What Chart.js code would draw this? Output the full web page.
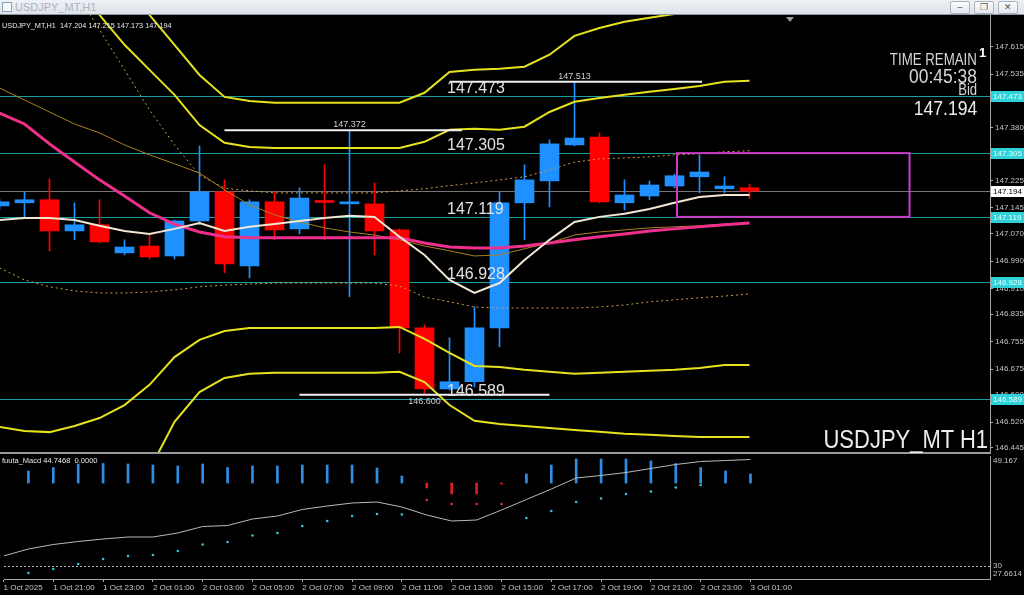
<!DOCTYPE html>
<html>
<head>
<meta charset="utf-8">
<title>USDJPY_MT,H1</title>
<script src="https://cdn.jsdelivr.net/npm/chart.js@4.4.1/dist/chart.umd.min.js"></script>
<style>
  html, body { margin: 0; padding: 0; background: #000; }
  body { width: 1024px; height: 595px; position: relative; overflow: hidden; font-family: "Liberation Sans", Arial, sans-serif; }
  #titleBar { position: absolute; left: 0; top: 0; width: 1024px; height: 14px; background: linear-gradient(#eef1f5, #dde3ea); border-bottom: 1px solid #8d96a0; }
  #titleBar .icon { position: absolute; left: 2px; top: 2px; width: 8px; height: 8px; border: 1px solid #8aa0b8; background: #f6f8fb; }
  #titleBar .name { position: absolute; left: 15px; top: 1px; font-size: 11px; line-height: 12px; color: #a9b3bd; }
  .btn { position: absolute; top: 1px; width: 18px; height: 11px; border: 1px solid #a9b2bc; border-radius: 2px; background: linear-gradient(#fbfcfd, #e3e8ee); font-size: 9px; line-height: 11px; text-align: center; color: #555; }
  canvas { position: absolute; left: 0; }
  #mainChart { top: 15px; }
  #oscChart { top: 452px; }
  #sep { position: absolute; left: 0; top: 452px; width: 991px; height: 2px; background: #9a9a9a; }
  #shift { position: absolute; left: 786px; top: 17px; width: 0; height: 0; border-left: 4px solid transparent; border-right: 4px solid transparent; border-top: 5px solid #9a9a9a; }
  .t { position: absolute; white-space: nowrap; line-height: 1; color: #d6d6d6; }
  .r { transform-origin: right center; text-align: right; }
</style>
</head>
<body>
<div id="titleBar"><div class="icon"></div><div class="name">USDJPY_MT,H1</div>
  <div class="btn" style="left:950px">&#8211;</div>
  <div class="btn" style="left:974px">&#10064;</div>
  <div class="btn" style="left:998px">&#10005;</div>
</div>
<canvas id="mainChart" width="1024" height="437"></canvas>
<canvas id="oscChart" width="1024" height="143"></canvas>
<div id="sep"></div>
<div id="shift"></div>

<div class="t" style="left:2px;top:21.5px;font-size:7.3px;color:#e6e6e6">USDJPY_MT,H1&nbsp; 147.204 147.215 147.173 147.194</div>
<div class="t r" style="right:47px;top:51.5px;font-size:16px;transform:scaleX(0.83)">TIME REMAIN</div>
<div class="t" style="left:979px;top:46px;font-size:13px;font-weight:bold;color:#fff">1</div>
<div class="t r" style="right:47px;top:66px;font-size:20px;transform:scaleX(0.87)">00:45:38</div>
<div class="t r" style="right:47px;top:82px;font-size:16px;transform:scaleX(0.82)">Bid</div>
<div class="t r" style="right:47px;top:98px;font-size:20px;color:#ececec;transform:scaleX(0.88)">147.194</div>
<div class="t r" style="right:36px;top:427px;font-size:25px;color:#ececec;transform:scaleX(0.88)">USDJPY_MT H1</div>
<div class="t" style="left:2px;top:457px;font-size:7.5px;color:#e6e6e6">fuuta_Macd 44.7468&nbsp; 0.0000</div>

<script>
// hourly bars, 1 Oct 19:00 .. 3 Oct 01:00
const opens  = [147.151, 147.160, 147.169, 147.078, 147.096, 147.014, 147.034, 147.005, 147.107, 147.192, 146.976,
                147.163, 147.084, 147.166, 147.157, 147.157, 147.081, 146.795, 146.617, 146.638, 146.795, 147.160,
                147.224, 147.329, 147.352, 147.160, 147.180, 147.209, 147.236, 147.201, 147.204];
const highs  = [147.171, 147.192, 147.230, 147.160, 147.169, 147.052, 147.064, 147.110, 147.326, 147.227, 147.169,
                147.192, 147.204, 147.271, 147.372, 147.218, 147.084, 146.804, 146.766, 146.856, 147.192, 147.271,
                147.344, 147.513, 147.364, 147.227, 147.224, 147.244, 147.300, 147.236, 147.215];
const lows   = [147.139, 147.116, 147.020, 147.052, 147.043, 147.008, 146.996, 146.996, 147.096, 146.956, 146.941,
                147.052, 147.069, 147.052, 146.886, 147.008, 146.722, 146.600, 146.614, 146.623, 146.740, 147.052,
                147.148, 147.326, 147.160, 147.139, 147.169, 147.204, 147.189, 147.189, 147.173];
const closes = [147.163, 147.169, 147.078, 147.096, 147.046, 147.031, 147.002, 147.107, 147.192, 146.982, 147.163,
                147.081, 147.174, 147.161, 147.163, 147.078, 146.795, 146.617, 146.638, 146.795, 147.160, 147.227,
                147.332, 147.349, 147.163, 147.183, 147.212, 147.239, 147.250, 147.209, 147.194];

// moving averages and bands
const maPink  = [147.422, 147.390, 147.332, 147.279, 147.227, 147.180, 147.131, 147.098, 147.075, 147.061, 147.058,
                 147.058, 147.058, 147.058, 147.058, 147.058, 147.058, 147.043, 147.031, 147.028, 147.028, 147.034,
                 147.043, 147.052, 147.061, 147.069, 147.078, 147.084, 147.090, 147.096, 147.101];
const maBrown = [147.495, 147.460, 147.425, 147.390, 147.364, 147.329, 147.300, 147.274, 147.247, 147.198, 147.154,
                 147.125, 147.104, 147.087, 147.075, 147.066, 147.052, 147.034, 147.020, 147.005, 147.008, 147.026,
                 147.043, 147.066, 147.075, 147.081, 147.087, 147.090, 147.093, 147.098, 147.101];
const maCream = [147.110, 147.116, 147.116, 147.110, 147.093, 147.078, 147.069, 147.084, 147.101, 147.078, 147.090,
                 147.098, 147.107, 147.116, 147.122, 147.119, 147.061, 147.008, 146.935, 146.897, 146.926, 146.993,
                 147.052, 147.104, 147.119, 147.128, 147.142, 147.160, 147.177, 147.183, 147.183];
const bandUp3 = [148.511, 148.365, 148.219, 148.073, 147.927, 147.810, 147.708, 147.621, 147.533, 147.469, 147.457,
                 147.452, 147.452, 147.452, 147.452, 147.452, 147.452, 147.481, 147.542, 147.548, 147.551, 147.557,
                 147.592, 147.647, 147.670, 147.688, 147.700, 147.711, 147.723, 147.729, 147.735];
const bandUp2 = [148.161, 148.044, 147.927, 147.810, 147.708, 147.621, 147.548, 147.475, 147.387, 147.335, 147.323,
                 147.320, 147.320, 147.320, 147.320, 147.320, 147.320, 147.338, 147.373, 147.376, 147.373, 147.382,
                 147.425, 147.455, 147.466, 147.475, 147.484, 147.492, 147.501, 147.513, 147.516];
const bandUp1 = [148.131, 148.015, 147.898, 147.781, 147.665, 147.548, 147.431, 147.329, 147.241, 147.203, 147.195,
                 147.189, 147.189, 147.189, 147.189, 147.189, 147.195, 147.201, 147.210, 147.218, 147.227, 147.236,
                 147.256, 147.279, 147.288, 147.291, 147.294, 147.300, 147.303, 147.309, 147.312];
const bandDn1 = [146.970, 146.935, 146.915, 146.903, 146.897, 146.897, 146.900, 146.906, 146.915, 146.920, 146.923,
                 146.926, 146.926, 146.926, 146.926, 146.926, 146.917, 146.885, 146.871, 146.856, 146.853, 146.853,
                 146.853, 146.853, 146.856, 146.862, 146.871, 146.877, 146.883, 146.888, 146.894];
const bandDn2 = [146.506, 146.494, 146.491, 146.509, 146.532, 146.570, 146.629, 146.710, 146.760, 146.786, 146.795,
                 146.795, 146.795, 146.795, 146.795, 146.795, 146.798, 146.763, 146.722, 146.684, 146.681, 146.673,
                 146.667, 146.661, 146.664, 146.667, 146.670, 146.673, 146.678, 146.687, 146.687];
const bandDn3 = [146.048, 146.077, 146.107, 146.159, 146.220, 146.300, 146.381, 146.521, 146.608, 146.649, 146.661,
                 146.664, 146.664, 146.664, 146.664, 146.664, 146.667, 146.637, 146.570, 146.524, 146.515, 146.509,
                 146.503, 146.497, 146.492, 146.486, 146.483, 146.480, 146.477, 146.477, 146.477];

// oscillator panel
const histTop = [null, 46.544, 47.156, 47.768, 47.856, 47.768, 47.593, 47.419, 47.768, 47.156, 47.419,
                 47.419, 47.593, 47.593, 47.593, 47.069, 45.670, 43.572, 42.523, 42.523, 44.271, 46.020,
                 47.593, 48.642, 48.642, 48.642, 48.293, 47.856, 47.156, 46.544, 46.020];
const histBase = 44.446;
const macdLine = [31.682, 32.906, 33.693, 34.217, 34.654, 35.004, 35.004, 35.704, 36.840, 37.015, 38.151,
                  38.676, 39.813, 40.424, 40.949, 41.124, 40.250, 38.851, 37.802, 37.977, 39.725, 41.561,
                  43.397, 45.320, 45.757, 46.282, 46.981, 47.681, 48.205, 48.380, 48.555];
const macdDots = [null, 28.710, 29.409, 30.283, 31.157, 31.682, 31.857, 32.556, 33.693, 34.130, 35.266,
                  35.704, 36.927, 37.802, 38.676, 39.026, 38.938, 41.474, 40.774, 40.774, 40.774, 38.326,
                  39.550, 41.124, 41.736, 42.523, 42.960, 43.659, 44.096, null, null];
const oscMax = 49.167, oscMin = 27.6614, oscLevel = 30;

// axes and horizontal objects
const priceTicks = [147.615, 147.535, 147.460, 147.380, 147.305, 147.225, 147.145, 147.070, 146.990,
                    146.910, 146.835, 146.755, 146.675, 146.600, 146.520, 146.445];
const xTickBars = [-1, 1, 3, 5, 7, 9, 11, 13, 15, 17, 19, 21, 23, 25, 27, 29];
const xTickLabels = ['1 Oct 2025', '1 Oct 21:00', '1 Oct 23:00', '2 Oct 01:00', '2 Oct 03:00', '2 Oct 05:00',
                     '2 Oct 07:00', '2 Oct 09:00', '2 Oct 11:00', '2 Oct 13:00', '2 Oct 15:00', '2 Oct 17:00',
                     '2 Oct 19:00', '2 Oct 21:00', '2 Oct 23:00', '3 Oct 01:00'];
const levels = [147.473, 147.305, 147.119, 146.928, 146.589];
const bidPrice = 147.194;
const markPrices = [147.513, 147.372, 146.600];
const markBars = [22, 13, 16];
const markFrom = [17, 8, 11];
const markTo = [27.1, 17.5, 21];

const barIdx = opens.map((_, k) => k - 1);
const xMin = -0.98, xMax = 38.62;
const priceMin = 146.433, priceMax = 147.708;
const levelTextBar = 16.9;
const boxBars = [26.1, 35.4];
const boxPrices = [147.305, 147.119];

const BLUE = '#1e90ff', RED = '#ff0000';
const FONT = '"Liberation Sans", Arial, sans-serif';

const pts = arr => barIdx.map((x, k) => ({ x, y: arr[k] }));
const candleColors = opens.map((o, k) => closes[k] >= o ? BLUE : RED);

function lineSet(arr, color, width, dash, order) {
  return { type: 'line', data: pts(arr), borderColor: color, borderWidth: width, borderDash: dash || [],
           pointRadius: 0, tension: 0, order };
}

function hline(ctx, x0, x1, py) {
  py = Math.round(py) + 0.5;
  ctx.beginPath(); ctx.moveTo(x0, py); ctx.lineTo(x1, py); ctx.stroke();
}

function tag(ctx, left, py, text, bg, fg) {
  ctx.fillStyle = bg;
  ctx.fillRect(left + 1, Math.round(py) - 5, 1024 - left, 11);
  ctx.fillStyle = fg;
  ctx.font = '8px ' + FONT;
  ctx.textAlign = 'left';
  ctx.textBaseline = 'middle';
  ctx.fillText(text, left + 3, Math.round(py) + 0.5);
}

const mainDecor = {
  id: 'mainDecor',
  beforeDatasetsDraw(chart) {
    const { ctx, chartArea: a, scales: { y } } = chart;
    ctx.save();
    ctx.lineWidth = 1;
    ctx.strokeStyle = '#767676';
    hline(ctx, a.left, a.right, y.getPixelForValue(bidPrice));
    ctx.strokeStyle = '#1c9ea2';
    levels.forEach(v => hline(ctx, a.left, a.right, y.getPixelForValue(v)));
    ctx.restore();
  },
  afterDatasetsDraw(chart) {
    const { ctx, scales: { x, y } } = chart;
    ctx.save();
    markPrices.forEach((v, k) => {
      const py = y.getPixelForValue(v);
      const below = v < closes[markBars[k] + 1];
      ctx.strokeStyle = '#f0f0f0';
      ctx.lineWidth = 2;
      ctx.beginPath();
      ctx.moveTo(x.getPixelForValue(markFrom[k]), py);
      ctx.lineTo(x.getPixelForValue(markTo[k]), py);
      ctx.stroke();
      ctx.fillStyle = '#cfcfcf';
      ctx.font = '9px ' + FONT;
      ctx.textAlign = 'center';
      ctx.textBaseline = below ? 'top' : 'bottom';
      ctx.fillText(v.toFixed(3), x.getPixelForValue(markBars[k]), below ? py + 2 : py - 1);
    });
    const bx0 = x.getPixelForValue(boxBars[0]), bx1 = x.getPixelForValue(boxBars[1]);
    const by0 = y.getPixelForValue(boxPrices[0]), by1 = y.getPixelForValue(boxPrices[1]);
    ctx.strokeStyle = '#c83cc8';
    ctx.lineWidth = 2;
    ctx.strokeRect(bx0, by0, bx1 - bx0, by1 - by0);
    ctx.fillStyle = '#e2e2e2';
    ctx.font = '16px ' + FONT;
    ctx.textAlign = 'left';
    ctx.textBaseline = 'alphabetic';
    levels.forEach(v => ctx.fillText(v.toFixed(3), x.getPixelForValue(levelTextBar), y.getPixelForValue(v) - 3));
    ctx.restore();
  },
  afterDraw(chart) {
    const { ctx, chartArea: a, scales: { y } } = chart;
    ctx.save();
    levels.forEach(v => tag(ctx, a.right, y.getPixelForValue(v), v.toFixed(3), '#2fd2d8', '#e6ffff'));
    tag(ctx, a.right, y.getPixelForValue(bidPrice), bidPrice.toFixed(3), '#ffffff', '#000000');
    ctx.restore();
  }
};

new Chart(document.getElementById('mainChart'), {
  type: 'bar',
  data: {
    datasets: [
      lineSet(maCream, '#f3e6d2', 2, null, 1),
      lineSet(maPink, '#ee2f8c', 3, null, 2),
      lineSet(maBrown, '#a8821e', 1, null, 3),
      lineSet(bandUp3, '#e6e21e', 2, null, 4),
      lineSet(bandUp2, '#e6e21e', 2, null, 4),
      lineSet(bandDn2, '#e6e21e', 2, null, 4),
      lineSet(bandDn3, '#e6e21e', 2, null, 4),
      lineSet(bandUp1, '#c9a040', 1, [2, 3], 5),
      lineSet(bandDn1, '#c9a040', 1, [2, 3], 5),
      { data: barIdx.map((x, k) => ({ x, y: [opens[k], closes[k]] })), backgroundColor: candleColors,
        borderWidth: 0, barThickness: 19, grouped: false, minBarLength: 2, order: 8 },
      { data: barIdx.map((x, k) => ({ x, y: [lows[k], highs[k]] })), backgroundColor: candleColors,
        borderWidth: 0, barThickness: 1, grouped: false, order: 9 }
    ]
  },
  options: {
    responsive: false, animation: false, events: [],
    layout: { padding: 0 },
    plugins: { legend: { display: false }, tooltip: { enabled: false } },
    scales: {
      x: { type: 'linear', min: xMin, max: xMax, offset: false, display: false },
      y: {
        position: 'right', min: priceMin, max: priceMax,
        afterBuildTicks: s => { s.ticks = priceTicks.map(v => ({ value: v })); },
        afterFit: s => { s.width = 34; s.paddingTop = 0; s.paddingBottom = 0; },
        ticks: { autoSkip: false, color: '#c4c4c4', padding: 2, font: { family: FONT, size: 8 },
                 callback: v => v.toFixed(3) },
        grid: { drawOnChartArea: false, color: '#a8a8a8', tickLength: 3 },
        border: { color: '#a8a8a8' }
      }
    }
  },
  plugins: [mainDecor]
});

const oscDecor = {
  id: 'oscDecor',
  afterDraw(chart) {
    const { ctx, chartArea: a, scales: { y } } = chart;
    ctx.save();
    ctx.strokeStyle = '#bdbdbd';
    ctx.lineWidth = 1;
    ctx.setLineDash([2, 2]);
    hline(ctx, a.left, a.right, y.getPixelForValue(oscLevel));
    ctx.setLineDash([]);
    ctx.fillStyle = '#c4c4c4';
    ctx.font = '8px ' + FONT;
    ctx.textAlign = 'left';
    ctx.textBaseline = 'top';
    ctx.fillText(String(oscMax), a.right + 3, a.top + 0.5);
    ctx.textBaseline = 'middle';
    ctx.fillText(String(oscLevel), a.right + 3, y.getPixelForValue(oscLevel));
    ctx.textBaseline = 'bottom';
    ctx.fillText(String(oscMin), a.right + 3, a.bottom - 1);
    ctx.restore();
  }
};

new Chart(document.getElementById('oscChart'), {
  type: 'bar',
  data: {
    datasets: [
      { type: 'line', data: pts(macdDots), showLine: false, pointRadius: 1.3, pointBorderWidth: 0,
        pointBackgroundColor: histTop.map(v => v !== null && v < histBase ? '#e03030' : '#36c6d6'), order: 0 },
      { type: 'line', data: pts(macdLine), borderColor: '#b8b8b8', borderWidth: 1, pointRadius: 0, tension: 0, order: 1 },
      { data: barIdx.map((x, k) => ({ x, y: histTop[k] === null ? null : [histBase, histTop[k]] })),
        backgroundColor: histTop.map(v => v !== null && v < histBase ? '#e01c1c' : '#2f8fe8'),
        borderWidth: 0, barThickness: 2, grouped: false, order: 2 }
    ]
  },
  options: {
    responsive: false, animation: false, events: [],
    layout: { padding: { top: 4 } },
    plugins: { legend: { display: false }, tooltip: { enabled: false } },
    scales: {
      x: {
        type: 'linear', min: xMin, max: xMax, position: 'bottom', offset: false,
        afterBuildTicks: s => { s.ticks = xTickBars.map(v => ({ value: v })); },
        afterFit: s => { s.height = 16; s.paddingLeft = 0; s.paddingRight = 0; },
        ticks: { autoSkip: false, maxRotation: 0, align: 'start', padding: 1, color: '#c4c4c4',
                 font: { family: FONT, size: 8 }, callback: (v, k) => xTickLabels[k] },
        grid: { drawOnChartArea: false, offset: false, color: '#a8a8a8', tickLength: 3 },
        border: { color: '#a8a8a8' }
      },
      y: {
        position: 'right', min: oscMin, max: oscMax,
        afterFit: s => { s.width = 34; s.paddingTop = 0; s.paddingBottom = 0; },
        ticks: { display: false },
        grid: { display: false },
        border: { color: '#a8a8a8' }
      }
    }
  },
  plugins: [oscDecor]
});
</script>
</body>
</html>
